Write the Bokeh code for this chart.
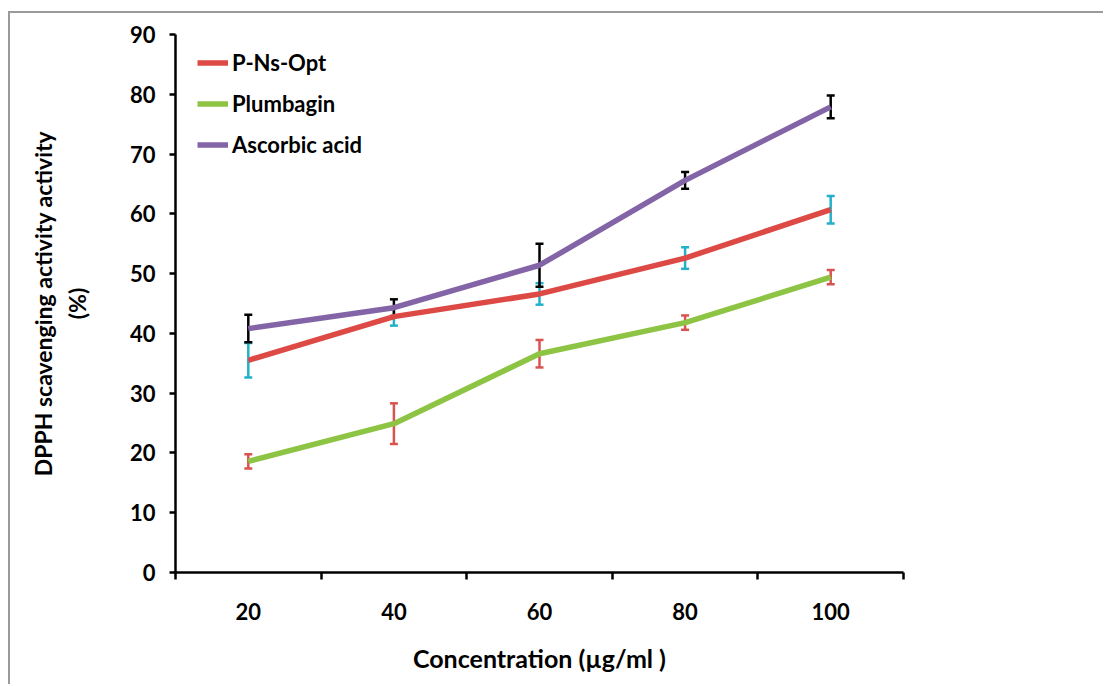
from bokeh.plotting import figure
from bokeh.models import (ColumnDataSource, FixedTicker, Whisker, TeeHead, Legend,
                          LegendItem, Range1d, CustomJSTickFormatter)
from bokeh.embed import file_html
from bokeh.resources import INLINE

categories = ["20", "40", "60", "80", "100"]
pns_opt = [35.5, 42.8, 46.6, 52.6, 60.7]
pns_opt_err = [2.9, 1.5, 1.8, 1.8, 2.3]
plumbagin = [18.6, 24.9, 36.6, 41.8, 49.4]
plumbagin_err = [1.2, 3.4, 2.3, 1.2, 1.2]
ascorbic = [40.8, 44.3, 51.4, 65.6, 77.9]
ascorbic_err = [2.3, 1.4, 3.6, 1.4, 1.9]
y_ticks = [0, 10, 20, 30, 40, 50, 60, 70, 80, 90]

FONT = "Lato"
x = list(range(1, len(categories) + 1))

# canvas placed at (10, 13) inside a page with a grey top/left border
p = figure(width=1095, height=673, output_backend="svg", toolbar_location=None,
           x_range=Range1d(0.5, len(categories) + 0.5), y_range=Range1d(0, 90))
p.margin = (11, 0, 0, 8)
p.styles = {"border-top": "2px solid #9a9a9a", "border-left": "2px solid #9a9a9a"}
p.min_border_left = 165
p.min_border_right = 202
p.min_border_top = 21
p.min_border_bottom = 114
p.outline_line_color = None
p.grid.visible = False
p.background_fill_color = "white"
p.border_fill_color = "white"

# x axis
p.xaxis.ticker = FixedTicker(ticks=x, minor_ticks=[i + 0.5 for i in range(0, len(categories) + 1)])
p.xaxis.formatter = CustomJSTickFormatter(args=dict(labels=categories),
                                          code="return labels[Math.round(tick) - 1] || '';")
p.xaxis.major_tick_in = 0
p.xaxis.major_tick_out = 0
p.xaxis.minor_tick_in = 0
p.xaxis.minor_tick_out = 7
p.xaxis.minor_tick_line_width = 2.5
p.xaxis.minor_tick_line_color = "black"
p.xaxis.axis_line_width = 2.5
p.xaxis.axis_line_color = "black"
p.xaxis.major_label_standoff = 23
p.xaxis.major_label_text_font = FONT
p.xaxis.major_label_text_font_style = "bold"
p.xaxis.major_label_text_font_size = "22px"
p.xaxis.major_label_text_color = "black"
p.xaxis.axis_label = "Concentration (µg/ml )"
p.xaxis.axis_label_text_font = FONT
p.xaxis.axis_label_text_font_style = "bold"
p.xaxis.axis_label_text_font_size = "25px"
p.xaxis.axis_label_text_color = "black"
p.xaxis.axis_label_standoff = 20

# y axis
p.yaxis.ticker = FixedTicker(ticks=y_ticks, minor_ticks=[])
p.yaxis.major_tick_in = 0
p.yaxis.major_tick_out = 6
p.yaxis.major_tick_line_width = 2.5
p.yaxis.axis_line_width = 2.5
p.yaxis.axis_line_color = "black"
p.yaxis.major_tick_line_color = "black"
p.yaxis.major_label_standoff = 14
p.yaxis.major_label_text_font = FONT
p.yaxis.major_label_text_font_style = "bold"
p.yaxis.major_label_text_font_size = "22px"
p.yaxis.major_label_text_color = "black"
p.yaxis.axis_label = "DPPH scavenging activity activity\n(%)"
p.yaxis.axis_label_text_font = FONT
p.yaxis.axis_label_text_font_style = "bold"
p.yaxis.axis_label_text_font_size = "23px"
p.yaxis.axis_label_text_color = "black"
p.yaxis.axis_label_standoff = 36

series = [
    ("P-Ns-Opt", pns_opt, pns_opt_err, "#DD4A45", "#23B1C9"),
    ("Plumbagin", plumbagin, plumbagin_err, "#8DC444", "#D9534F"),
    ("Ascorbic acid", ascorbic, ascorbic_err, "#8364A6", "#000000"),
]

items = []
for name, vals, errs, color, ecolor in series:
    src = ColumnDataSource(dict(
        x=x, y=vals,
        upper=[v + e for v, e in zip(vals, errs)],
        lower=[v - e for v, e in zip(vals, errs)],
    ))
    w = Whisker(source=src, base="x", upper="upper", lower="lower",
                line_color=ecolor, line_width=2.5, level="underlay",
                upper_head=TeeHead(size=8, line_color=ecolor, line_width=2.5),
                lower_head=TeeHead(size=8, line_color=ecolor, line_width=2.5))
    p.add_layout(w)
    r = p.line("x", "y", source=src, line_color=color, line_width=5.5)
    items.append(LegendItem(label=name, renderers=[r]))

legend = Legend(items=items, location=(22, 414), padding=0, margin=0, spacing=14,
                glyph_width=31, glyph_height=27, label_height=27, label_standoff=4,
                label_text_font=FONT, label_text_font_style="bold",
                label_text_font_size="22px", label_text_color="black",
                border_line_color=None, background_fill_alpha=0)
p.add_layout(legend)

open("out.html", "w").write(file_html(p, INLINE))
